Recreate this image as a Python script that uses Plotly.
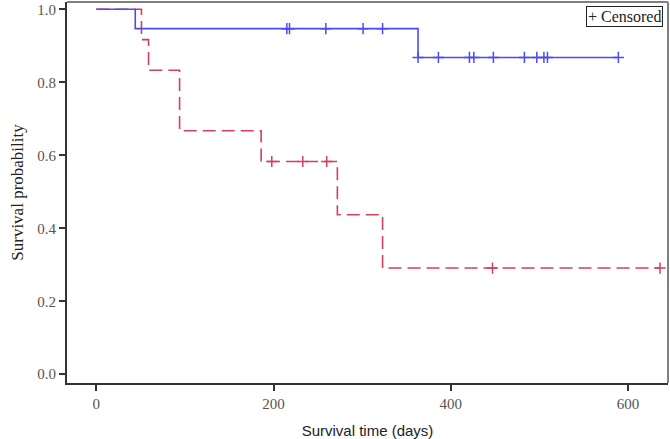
import plotly.graph_objects as go

# Kaplan-Meier step data
blue_time = [0, 44, 363, 589]
blue_surv = [1.0, 0.947, 0.868, 0.868]
blue_cens_time = [215, 218, 259, 301, 323, 363, 386, 421, 426, 448, 483, 497, 505, 509, 589]
blue_cens_surv = [0.947, 0.947, 0.947, 0.947, 0.947, 0.868, 0.868, 0.868, 0.868, 0.868,
                  0.868, 0.868, 0.868, 0.868, 0.868]

red_time = [0, 51, 59, 94, 186, 272, 323, 636]
red_surv = [1.0, 0.917, 0.833, 0.667, 0.583, 0.437, 0.291, 0.291]
red_cens_time = [198, 233, 260, 447, 636]
red_cens_surv = [0.583, 0.583, 0.583, 0.291, 0.291]

x_ticks = [0, 200, 400, 600]
y_ticks = [0.0, 0.2, 0.4, 0.6, 0.8, 1.0]

BLUE = "#4b4bf2"
RED = "#d2405c"
SERIF = "Liberation Serif, Times New Roman, serif"
SANS = "Liberation Sans, Arial, sans-serif"

fig = go.Figure()
fig.add_trace(go.Scatter(x=red_time, y=red_surv, mode="lines", line_shape="hv",
                         line=dict(color=RED, width=1.6, dash="13px,6px"), showlegend=False))
fig.add_trace(go.Scatter(x=blue_time, y=blue_surv, mode="lines", line_shape="hv",
                         line=dict(color=BLUE, width=1.6), showlegend=False))
fig.add_trace(go.Scatter(x=red_cens_time, y=red_cens_surv, mode="markers",
                         marker=dict(symbol="cross-thin", size=8, line=dict(color=RED, width=1.5)),
                         showlegend=False))
fig.add_trace(go.Scatter(x=blue_cens_time, y=blue_cens_surv, mode="markers",
                         marker=dict(symbol="cross-thin", size=8, line=dict(color=BLUE, width=1.5)),
                         showlegend=False))

# gray top/right frame
fig.add_shape(type="line", xref="paper", yref="paper", x0=0, x1=1, y0=1, y1=1,
              line=dict(color="#808080", width=2))
fig.add_shape(type="line", xref="paper", yref="paper", x0=1, x1=1, y0=0, y1=1,
              line=dict(color="#808080", width=2))

fig.add_annotation(xref="paper", yref="paper", x=0.992, y=0.99, xanchor="right", yanchor="top",
                   text="+ Censored", showarrow=False, font=dict(family=SERIF, size=16, color="#222"),
                   bordercolor="#222", borderwidth=1, borderpad=1, bgcolor="white")

fig.update_layout(
    width=670, height=439,
    margin=dict(l=67, r=2, t=2, b=56),
    paper_bgcolor="white", plot_bgcolor="white",
    xaxis=dict(range=[-33, 645], tickvals=x_ticks, ticks="outside", ticklen=6, tickwidth=1.5,
               tickcolor="#333", showline=True, linecolor="#333", linewidth=2, showgrid=False,
               zeroline=False, tickfont=dict(family=SERIF, size=15, color="#555"),
               title=dict(text="Survival time (days)", font=dict(family=SANS, size=15, color="#222"),
                          standoff=14)),
    yaxis=dict(range=[-0.024, 1.02], tickvals=y_ticks, tickformat=".1f", ticks="outside", ticklen=6,
               tickwidth=1.5, tickcolor="#333", showline=True, linecolor="#333", linewidth=2,
               showgrid=False, zeroline=False, tickfont=dict(family=SERIF, size=15, color="#555"),
               title=dict(text="Survival probability", font=dict(family=SERIF, size=17, color="#222"),
                          standoff=9)),
)

fig.write_html("out.html", config={"displayModeBar": False})

# remove default page margins so the figure sits at the window origin
with open("out.html", "r", encoding="utf-8") as f:
    html = f.read()
html = html.replace("<head>", "<head><style>html,body{margin:0;padding:0;overflow:hidden;}</style>", 1)
with open("out.html", "w", encoding="utf-8") as f:
    f.write(html)
